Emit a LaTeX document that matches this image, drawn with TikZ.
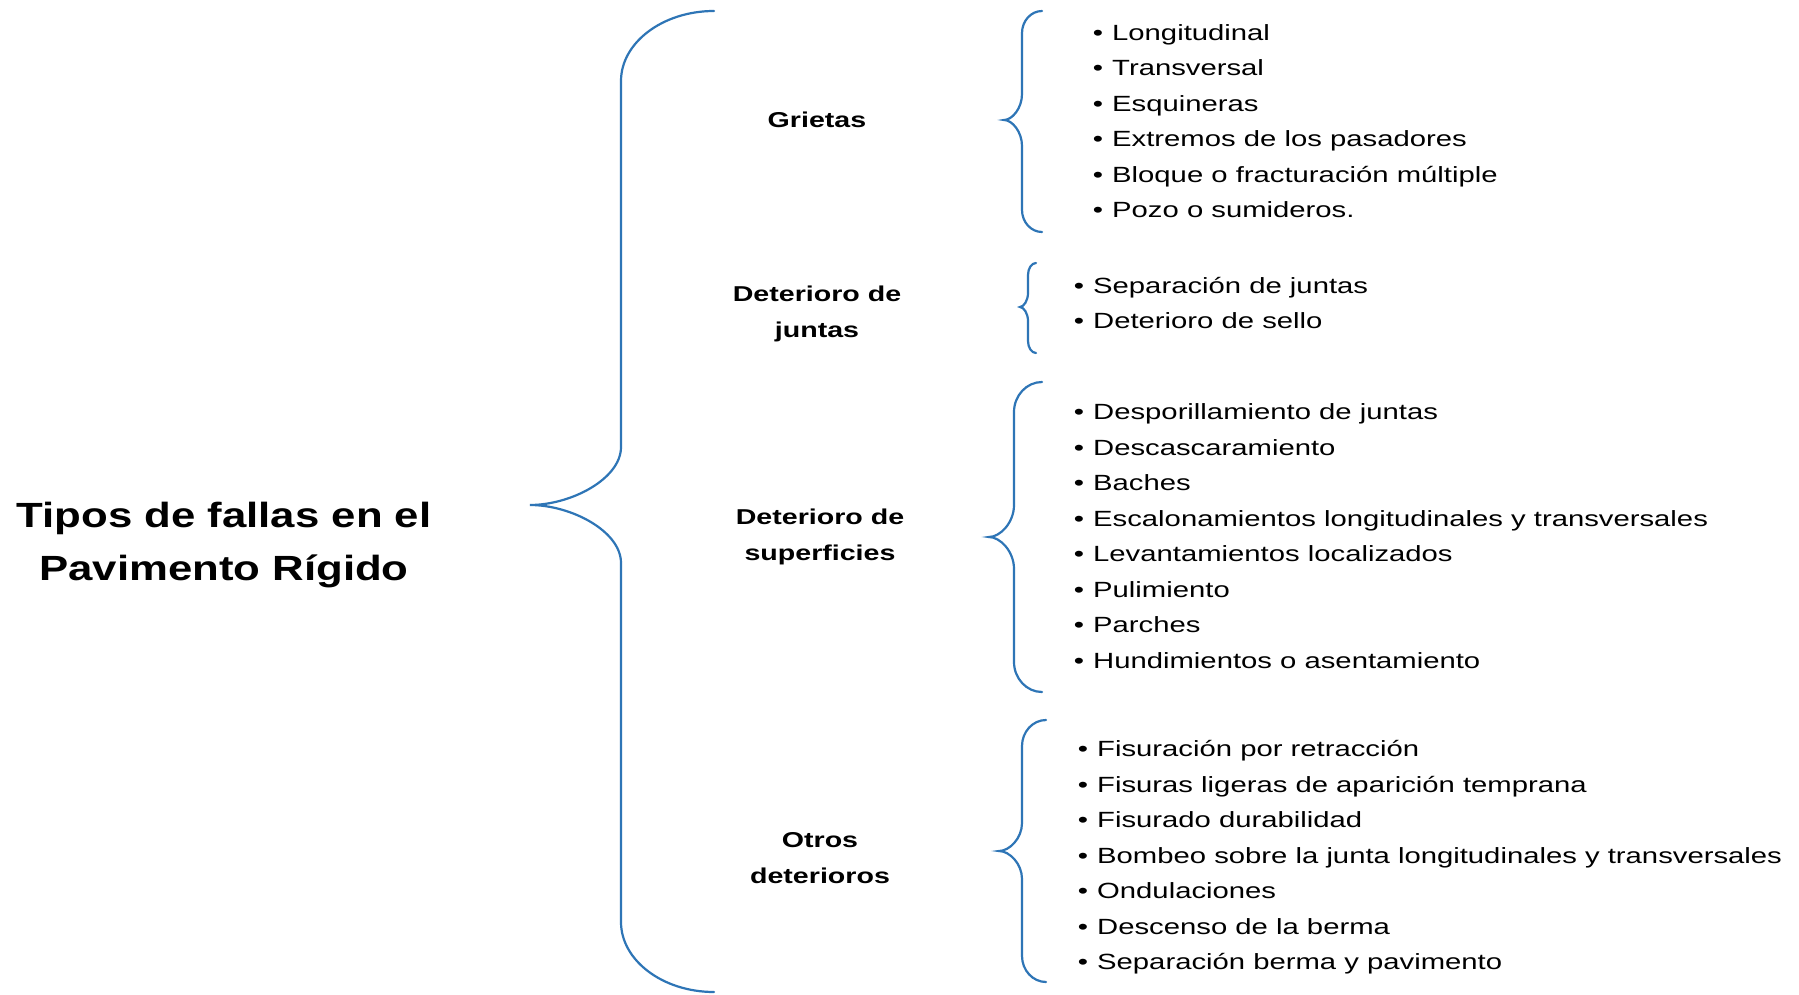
\documentclass[tikz,border=0pt]{standalone}
\usepackage{fontspec}
\setmainfont{Liberation Sans}[FakeStretch=1.33]
\newfontfamily\titlefont{Liberation Sans}[FakeStretch=1.25]
\newfontfamily\catfont{Liberation Sans}[FakeStretch=1.33]
\definecolor{braceblue}{RGB}{46,117,182}
\newcommand{\curlyb}[8]{%
  % #1 xv, #2 xe, #3 ytop, #4 ybottom, #5 xtip, #6 ymid, #7 r end, #8 r mid
  \draw[bracestyle] (#2,#3) .. controls ({#2-(#2-#1)*0.55},#3) and (#1,{#3+#7*0.45}) .. (#1,{#3+#7})
    -- (#1,{#6-#8}) .. controls (#1,{#6-#8*0.45}) and ({#5+(#1-#5)*0.45},#6) .. (#5,#6)
    .. controls ({#5+(#1-#5)*0.45},#6) and (#1,{#6+#8*0.45}) .. (#1,{#6+#8})
    -- (#1,{#4-#7}) .. controls (#1,{#4-#7*0.45}) and ({#2-(#2-#1)*0.55},#4) .. (#2,#4);}
\begin{document}
\begin{tikzpicture}[x=1pt,y=-1pt,
  bracestyle/.style={draw=braceblue,line width=2.2pt,line cap=round},
  titletext/.style={font=\titlefont\bfseries\fontsize{35}{53}\selectfont,align=center,inner sep=0pt},
  cattext/.style={font=\catfont\bfseries\fontsize{21.5}{35.5}\selectfont,align=center,inner sep=0pt},
  itemtext/.style={font=\fontsize{22}{25}\selectfont,anchor=base west,inner sep=0pt}]
\useasboundingbox[fill=white] (0,0) rectangle (1799,995);

% title
\node[titletext] (title) at (224,545) {Tipos de fallas en el\\Pavimento Rígido};

% big brace
\curlyb{621}{714}{11}{992}{530}{505}{70}{58}

% categories
\node[cattext] (grietas) at (817,120) {Grietas};
\node[cattext] (juntas) at (817,314) {Deterioro de\\juntas};
\node[cattext] (superf) at (820,537) {Deterioro de\\superficies};
\node[cattext] (otros) at (820,858) {Otros\\deterioros};

% small braces
\curlyb{1022}{1042}{11}{232}{1004}{120}{22}{26}
\curlyb{1028}{1036}{263}{353}{1020}{307}{12}{14}
\curlyb{1014}{1042}{382}{692}{989}{537}{30}{32}
\curlyb{1022}{1046}{720}{982}{999}{851}{26}{28}

% items
\foreach \t [count=\i] in {Longitudinal,Transversal,Esquineras,Extremos de los pasadores,Bloque o fracturación múltiple,Pozo o sumideros.}
  \node[itemtext] (g\i) at (1112,{33+(\i-1)*35.4+7.5}) {\llap{\textbullet\hspace{9pt}}\t};
\foreach \t [count=\i] in {Separación de juntas,Deterioro de sello}
  \node[itemtext] (j\i) at (1093,{286+(\i-1)*35.4+7.5}) {\llap{\textbullet\hspace{9pt}}\t};
\foreach \t [count=\i] in {Desporillamiento de juntas,Descascaramiento,Baches,Escalonamientos longitudinales y transversales,Levantamientos localizados,Pulimiento,Parches,Hundimientos o asentamiento}
  \node[itemtext] (s\i) at (1093,{412+(\i-1)*35.5+7.5}) {\llap{\textbullet\hspace{9pt}}\t};
\foreach \t [count=\i] in {Fisuración por retracción,Fisuras ligeras de aparición temprana,Fisurado durabilidad,Bombeo sobre la junta longitudinales y transversales,Ondulaciones,Descenso de la berma,Separación berma y pavimento}
  \node[itemtext] (o\i) at (1097,{749+(\i-1)*35.5+7.5}) {\llap{\textbullet\hspace{9pt}}\t};
\end{tikzpicture}
\end{document}
